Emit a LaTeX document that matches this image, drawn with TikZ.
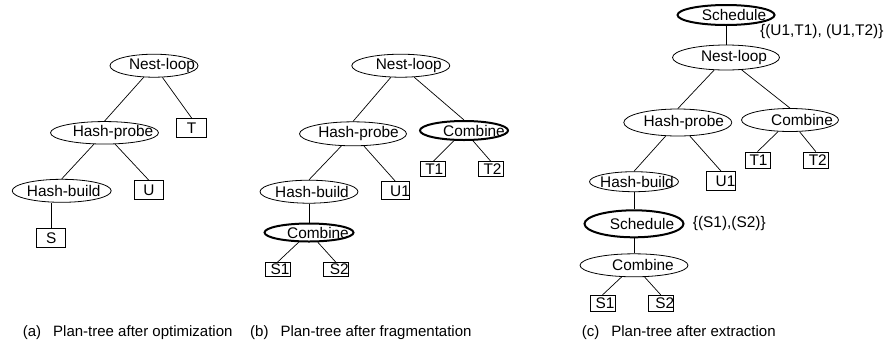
\documentclass[tikz,border=0pt]{standalone}
\usepackage{fontspec}
\setmainfont{Liberation Sans}
\usetikzlibrary{shapes.geometric}
\tikzstyle{opnode}=[ellipse,draw=black,line width=0.8pt,inner sep=0pt,minimum height=23pt]
\tikzstyle{boldnode}=[opnode,line width=2pt]
\tikzstyle{leafbox}=[rectangle,draw=black,line width=0.8pt,inner sep=0pt]
\tikzstyle{treeline}=[-,line width=0.7pt]
\tikzstyle{plaintext}=[inner sep=0pt,anchor=west]
\newcommand{\shifted}[2]{\makebox[0pt]{\hspace*{#1pt}\hspace*{#1pt}#2}}

\begin{document}
\begin{tikzpicture}[x=1pt,y=-1pt,font=\fontsize{15.4}{18}\selectfont]
        \useasboundingbox (0,0) rectangle (885,349);
        % (a) after optimization
        \node[opnode, minimum width=88pt] (a1) at (154,65.7) {\shifted{8}{Nest-loop}};
        \node[opnode, minimum width=108pt, minimum height=22.5pt] (a2) at (104.5,132.8) {\shifted{8.5}{Hash-probe}};
        \node[leafbox, minimum width=30pt, minimum height=19pt] (a3) at (191.7,128) {\shifted{0}{T}};
        \node[opnode, minimum width=99pt] (a4) at (61.7,190.8) {\shifted{2}{Hash-build}};
        \node[leafbox, minimum width=29pt, minimum height=19pt] (a5) at (149,190.3) {\shifted{0}{U}};
        \node[leafbox, minimum width=29pt, minimum height=19pt] (a6) at (51.3,237.8) {\shifted{0}{S}};
        
        \path[treeline]
            (a1) edge (a2.north)
            (a1) edge (a3.north)
            (a2) edge (a4.north)
            (a2) edge (a5.north)
            (a6.north) edge (a6.north |- a4.south);
        
        % (b) after fragmentation
        \node[opnode, minimum width=98pt] (b1) at (400.8,65.7) {\shifted{8}{Nest-loop}};
        \node[opnode, minimum width=107pt, minimum height=24pt] (b2) at (353,133.8) {\shifted{5.5}{Hash-probe}};
        \node[boldnode, minimum width=88pt, minimum height=19pt] (b3) at (464,130.5) {\shifted{10}{Combine}};
        \node[leafbox, minimum width=25pt, minimum height=15pt] (b4) at (433.3,169.2) {\shifted{1}{T1}};
        \node[leafbox, minimum width=25pt, minimum height=15pt] (b5) at (490.8,169.2) {\shifted{1.7}{T2}};
        \node[opnode, minimum width=98pt] (b6) at (309,191.7) {\shifted{3}{Hash-build}};
        \node[leafbox, minimum width=28pt, minimum height=18pt] (b7) at (395.5,190.8) {\shifted{4.5}{U1}};
        \node[boldnode, minimum width=89pt, minimum height=18pt] (b8) at (309,232.5) {\shifted{9}{Combine}};
        \node[leafbox, minimum width=25pt, minimum height=13.5pt] (b9) at (277.5,269.3) {\shifted{2.5}{S1}};
        \node[leafbox, minimum width=25pt, minimum height=13.5pt] (b10) at (335.8,269.3) {\shifted{3.4}{S2}};
        
        \path[treeline]
            (b1) edge (b2.north)
            (b1) edge (b3.north)
            (b3) edge (b4.north)
            (b3) edge (b5.north)
            (b2) edge (b6.north)
            (b2) edge (b7.north)
            (b6) edge (b8)
            (b8) edge (b9.north)
            (b8) edge (b10.north);
        
        % (c) after extraction
        \node[boldnode, minimum width=97pt, minimum height=20pt] (c1) at (726,15) {\shifted{8}{Schedule}};
        \node[plaintext] (l1) at (760,31.5) {\{(U1,T1), (U1,T2)\}};
        \node[opnode, minimum width=107pt, minimum height=25pt] (c2) at (726,57.5) {\shifted{8}{Nest-loop}};
        \node[opnode, minimum width=108pt, minimum height=27pt] (c3) at (677.8,122.5) {\shifted{6}{Hash-probe}};
        \node[opnode, minimum width=97pt] (c4) at (790,120) {\shifted{12}{Combine}};
        \node[leafbox, minimum width=25pt, minimum height=16pt] (c5) at (757.5,160) {\shifted{1}{T1}};
        \node[leafbox, minimum width=25pt, minimum height=16pt] (c6) at (815.8,160) {\shifted{2}{T2}};
        \node[opnode, minimum width=89pt, minimum height=20pt] (c7) at (634,181.7) {\shifted{3}{Hash-build}};
        \node[leafbox, minimum width=29pt, minimum height=19pt] (c8) at (721.2,181.2) {\shifted{4.3}{U1}};
        \node[boldnode, minimum width=99pt, minimum height=27pt] (c9) at (634,223.8) {\shifted{8}{Schedule}};
        \node[plaintext] (l2) at (692.7,223.3) {\{(S1),(S2)\}};
        \node[opnode, minimum width=108pt] (c10) at (634,265.3) {\shifted{9}{Combine}};
        \node[leafbox, minimum width=25pt, minimum height=16pt] (c11) at (602.5,303.3) {\shifted{2.5}{S1}};
        \node[leafbox, minimum width=25pt, minimum height=16pt] (c12) at (660.8,303.3) {\shifted{4}{S2}};
        
        \path[treeline]
            (c1) edge (c2)
            (c2) edge (c3.north)
            (c2) edge (c4.north)
            (c4) edge (c5.north)
            (c4) edge (c6.north)
            (c3) edge (c7.north)
            (c3) edge (c8.north)
            (c7) edge (c9)
            (c9) edge (c10)
            (c10) edge (c11.north)
            (c10) edge (c12.north);
        
        % captions
        \node[plaintext, font=\fontsize{15}{18}\selectfont] (capa) at (22.7,333) {(a)\hspace{0.8em}Plan-tree after optimization};
        \node[plaintext, font=\fontsize{15}{18}\selectfont] (capb) at (250,333) {(b)\hspace{0.8em}Plan-tree after fragmentation};
        \node[plaintext, font=\fontsize{15}{18}\selectfont] (capc) at (581.7,333) {(c)\hspace{0.8em}Plan-tree after extraction};
    \end{tikzpicture}
\end{document}
